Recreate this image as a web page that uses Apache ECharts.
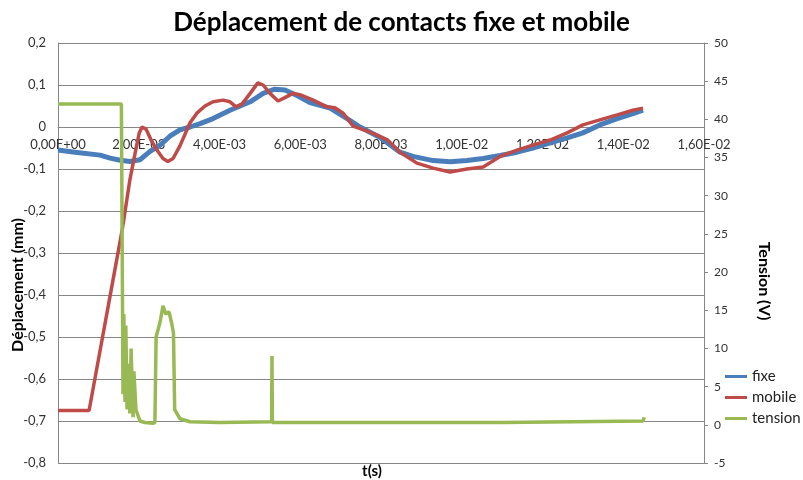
<!DOCTYPE html>
<html>
<head>
<meta charset="utf-8">
<script src="https://cdn.jsdelivr.net/npm/echarts@6/dist/echarts.min.js"></script>
<style>
html,body{margin:0;padding:0;background:#fff;}
#main{width:803px;height:480px;}
</style>
</head>
<body>
<div id="main"></div>
<script>
// fixe (mm)
var fixeT=[0,0.00042,0.00104,0.00129,0.00154,0.00178,0.00203,0.00228,0.00253,0.00277,0.00302,0.00327,0.00352,0.00384,
  0.00426,0.00476,0.00508,0.00537,0.00562,0.00592,0.00624,0.00674,0.00716,0.00748,0.00798,0.00847,0.00879,0.00929,
  0.00971,0.01013,0.01053,0.01095,0.01137,0.01176,0.01219,0.01261,0.013,0.01342,0.01385,0.01424,0.01449];
var fixeV=[-0.055,-0.06,-0.067,-0.074,-0.079,-0.082,-0.078,-0.058,-0.043,-0.022,-0.007,0,0.008,0.02,
  0.04,0.06,0.08,0.09,0.088,0.075,0.058,0.045,0.02,0,-0.025,-0.06,-0.07,-0.08,
  -0.083,-0.08,-0.075,-0.068,-0.06,-0.05,-0.038,-0.026,-0.014,0.005,0.02,0.032,0.04];

// mobile (mm)
var mobileT=[0,0.00077,0.00159,0.00178,0.00191,0.00201,0.00208,0.00218,0.0023,0.00245,0.0026,0.00272,0.00285,0.00302,
  0.00327,0.00344,0.00364,0.00384,0.00409,0.00426,0.00441,0.00456,0.00476,0.00495,0.00508,0.00525,0.00545,0.00562,
  0.00582,0.00599,0.00632,0.00666,0.00686,0.00706,0.00731,0.00773,0.00815,0.00847,0.00889,0.00929,0.00971,0.01013,
  0.01053,0.01095,0.01137,0.01176,0.01219,0.01261,0.013,0.01342,0.01385,0.01424,0.01449];
var mobileV=[-0.675,-0.675,-0.245,-0.126,-0.062,-0.015,0,-0.005,-0.03,-0.055,-0.075,-0.082,-0.075,-0.045,
  0.01,0.033,0.05,0.06,0.064,0.06,0.048,0.055,0.08,0.105,0.1,0.08,0.062,0.07,
  0.08,0.077,0.064,0.048,0.046,0.033,0.002,-0.012,-0.03,-0.06,-0.086,-0.098,-0.107,-0.1,
  -0.095,-0.07,-0.055,-0.043,-0.031,-0.014,0.005,0.017,0.029,0.04,0.045];

// tension (V)
var tensionT=[0,0.00157,0.00161,0.00163,0.00166,0.00168,0.00171,0.00173,0.00178,0.00181,0.00186,0.00188,0.00193,
  0.00203,0.00215,0.00235,0.0024,0.00243,0.00253,0.0026,0.00267,0.00275,0.00282,0.00286,0.00289,0.00302,0.00327,
  0.00401,0.00529,0.0053,0.00531,0.008,0.011,0.01449,0.01452];
var tensionV=[42,42,4,14.5,3,13,2,8,1.5,10,1,7,2,
  0.5,0.3,0.2,0.3,11.5,13.5,15.6,14.5,14.8,13.2,12,2,0.8,0.4,
  0.3,0.4,9,0.3,0.3,0.3,0.5,1];

function zip(t,v){
  var out=[];
  for(var i=0;i<t.length;i++){ out.push([t[i],v[i]]); }
  return out;
}

function sci(v){
  if(Math.abs(v)<1e-12) return '0,00E+00';
  var e=Math.floor(Math.log10(Math.abs(v))+1e-9);
  var m=v/Math.pow(10,e);
  var ae=Math.abs(e);
  return m.toFixed(2).replace('.',',')+'E'+(e<0?'-':'+')+(ae<10?'0':'')+ae;
}

var font='Lato';
var grey='#868686';
var myChart=echarts.init(document.getElementById('main'));
var option={
  animation:false,
  textStyle:{fontFamily:font},
  title:{
    text:'Déplacement de contacts fixe et mobile',
    left:'center',top:5,
    textStyle:{fontFamily:font,fontSize:26,fontWeight:'bold',color:'#000'}
  },
  grid:{left:58,right:99,top:43,bottom:17},
  legend:{
    orient:'vertical',left:720,top:364,itemGap:6,itemWidth:22,itemHeight:3,icon:'rect',
    textStyle:{fontFamily:font,fontSize:15,color:'#222'},
    data:['fixe','mobile','tension']
  },
  xAxis:{
    type:'value',min:0,max:0.016,interval:0.002,
    // axe des t placé sur le zéro de l'axe de gauche
    offset:-336,
    axisLine:{onZero:false,lineStyle:{color:grey}},
    axisTick:{show:false},
    splitLine:{show:false},
    axisLabel:{formatter:sci,fontSize:13,color:'#333',margin:11,showMinLabel:true,showMaxLabel:true}
  },
  yAxis:[{
    type:'value',min:-0.8,max:0.2,interval:0.1,
    axisLine:{show:true,lineStyle:{color:grey}},
    axisTick:{show:false},
    splitLine:{lineStyle:{color:grey}},
    axisLabel:{fontSize:13,color:'#333',margin:12,formatter:function(v){
      var r=Math.round(v*10)/10;
      return r===0?'0':r.toFixed(1).replace('.',',');
    }}
  },{
    type:'value',min:-5,max:50,interval:5,position:'right',
    axisLine:{show:true,lineStyle:{color:grey}},
    axisTick:{show:true,length:4,lineStyle:{color:grey}},
    splitLine:{show:false},
    axisLabel:{fontSize:12,color:'#333',margin:10}
  }],
  graphic:[
    {type:'text',x:18,y:285,rotation:Math.PI/2,
      style:{text:'Déplacement (mm)',font:'bold 16px Lato',fill:'#000',textAlign:'center',textVerticalAlign:'middle'}},
    {type:'text',x:764,y:281,rotation:-Math.PI/2,
      style:{text:'Tension (V)',font:'bold 16px Lato',fill:'#000',textAlign:'center',textVerticalAlign:'middle'}},
    {type:'text',x:372,y:471,
      style:{text:'t(s)',font:'bold 15px Lato',fill:'#000',textAlign:'center',textVerticalAlign:'middle'}}
  ],
  series:[{
    name:'fixe',type:'line',yAxisIndex:0,symbol:'none',
    itemStyle:{color:'#4a7ebb'},lineStyle:{width:5,color:'#4a7ebb'},
    data:zip(fixeT,fixeV)
  },{
    name:'mobile',type:'line',yAxisIndex:0,symbol:'none',
    itemStyle:{color:'#be4b48'},lineStyle:{width:3.5,color:'#be4b48'},
    data:zip(mobileT,mobileV)
  },{
    name:'tension',type:'line',yAxisIndex:1,symbol:'none',
    itemStyle:{color:'#98b954'},lineStyle:{width:3.5,color:'#98b954'},
    data:zip(tensionT,tensionV)
  }]
};
myChart.setOption(option);
</script>
</body>
</html>
